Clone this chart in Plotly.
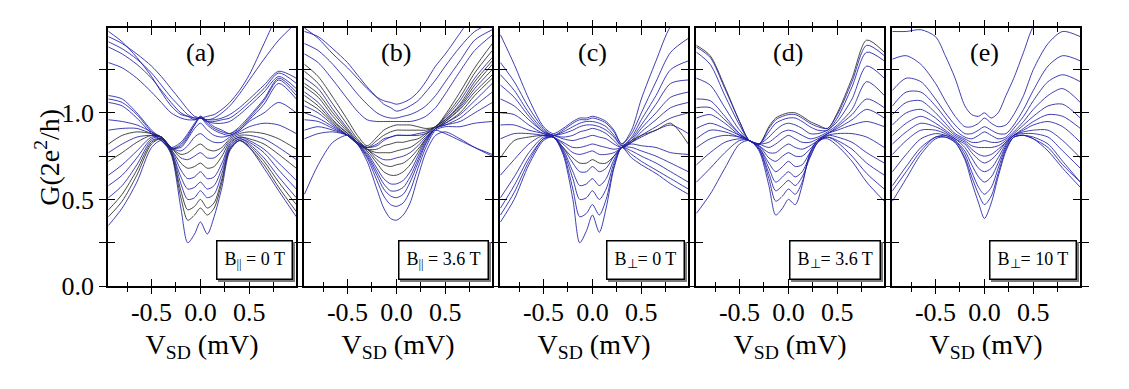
import plotly.graph_objects as go

# source-drain bias grid (mV)
VSD = [-0.94, -0.8, -0.65, -0.5, -0.4, -0.3, -0.2, -0.13, -0.06, 0.0,
       0.07, 0.14, 0.22, 0.3, 0.4, 0.5, 0.65, 0.8, 0.98]

# (a) B_par = 0 T
G_A = [
    [1.47, 1.41, 1.32, 1.21, 1.12, 1.04, 0.99, 0.98, 0.97, 0.97, 0.98, 0.99, 1.02, 1.06, 1.13, 1.22, 1.4, 1.58, 1.75],
    [1.44, 1.4, 1.34, 1.27, 1.21, 1.14, 1.07, 1.02, 0.98, 0.97, 0.96, 0.97, 1.0, 1.04, 1.11, 1.19, 1.31, 1.42, 1.52],
    [1.41, 1.37, 1.31, 1.23, 1.16, 1.09, 1.03, 0.99, 0.97, 0.97, 0.96, 0.96, 0.97, 0.99, 1.03, 1.08, 1.16, 1.24, 1.2],
    [1.38, 1.34, 1.28, 1.2, 1.13, 1.06, 1.0, 0.98, 0.96, 0.97, 0.95, 0.95, 0.96, 0.97, 1.01, 1.06, 1.14, 1.23, 1.17],
    [1.29, 1.26, 1.2, 1.12, 1.06, 1.0, 0.97, 0.96, 0.96, 0.97, 0.95, 0.94, 0.94, 0.95, 0.99, 1.04, 1.12, 1.21, 1.14],
    [1.1, 1.08, 1.0, 0.9, 0.85, 0.8, 0.83, 0.88, 0.94, 0.98, 0.95, 0.92, 0.9, 0.88, 0.92, 0.98, 1.08, 1.2, 1.12],
    [1.08, 1.06, 0.99, 0.89, 0.84, 0.79, 0.82, 0.87, 0.93, 0.98, 0.94, 0.91, 0.89, 0.88, 0.91, 0.97, 1.07, 1.19, 1.1],
    [1.06, 1.04, 0.97, 0.88, 0.84, 0.79, 0.81, 0.86, 0.93, 0.97, 0.93, 0.9, 0.88, 0.87, 0.9, 0.96, 1.05, 1.17, 1.08],
    [0.96, 0.95, 0.93, 0.89, 0.86, 0.8, 0.8, 0.85, 0.91, 0.94, 0.9, 0.87, 0.86, 0.87, 0.9, 0.95, 1.0, 1.06, 1.0],
    [0.9, 0.91, 0.91, 0.88, 0.86, 0.8, 0.78, 0.81, 0.86, 0.88, 0.85, 0.83, 0.83, 0.86, 0.89, 0.92, 0.94, 0.93, 0.88],
    [0.82, 0.87, 0.89, 0.88, 0.86, 0.8, 0.76, 0.77, 0.8, 0.82, 0.79, 0.78, 0.8, 0.85, 0.88, 0.89, 0.88, 0.85, 0.79],
    [0.77, 0.82, 0.86, 0.87, 0.86, 0.8, 0.74, 0.73, 0.75, 0.77, 0.74, 0.74, 0.78, 0.84, 0.87, 0.87, 0.85, 0.8, 0.73],
    [0.72, 0.77, 0.83, 0.87, 0.86, 0.79, 0.71, 0.68, 0.69, 0.71, 0.68, 0.69, 0.75, 0.83, 0.86, 0.85, 0.82, 0.76, 0.68],
    [0.64, 0.7, 0.78, 0.86, 0.86, 0.79, 0.67, 0.62, 0.63, 0.66, 0.62, 0.63, 0.71, 0.82, 0.86, 0.84, 0.79, 0.71, 0.61],
    [0.58, 0.64, 0.74, 0.85, 0.86, 0.78, 0.63, 0.56, 0.57, 0.6, 0.56, 0.58, 0.68, 0.81, 0.85, 0.83, 0.77, 0.67, 0.56],
    [0.51, 0.58, 0.7, 0.84, 0.85, 0.78, 0.59, 0.5, 0.51, 0.55, 0.51, 0.53, 0.65, 0.8, 0.85, 0.82, 0.74, 0.63, 0.51],
    [0.44, 0.53, 0.67, 0.83, 0.85, 0.77, 0.55, 0.44, 0.46, 0.5, 0.45, 0.48, 0.62, 0.79, 0.84, 0.81, 0.72, 0.6, 0.47],
    [0.4, 0.49, 0.64, 0.82, 0.85, 0.77, 0.51, 0.38, 0.41, 0.45, 0.41, 0.45, 0.6, 0.79, 0.84, 0.8, 0.7, 0.57, 0.43],
    [0.35, 0.45, 0.6, 0.8, 0.84, 0.76, 0.45, 0.25, 0.3, 0.37, 0.3, 0.4, 0.57, 0.78, 0.84, 0.8, 0.68, 0.55, 0.4],
]
DARK_A = [10, 12, 16, 17]

# (b) B_par = 3.6 T
G_B = [
    [1.49, 1.43, 1.34, 1.26, 1.2, 1.14, 1.09, 1.07, 1.06, 1.05, 1.06, 1.08, 1.12, 1.18, 1.27, 1.34, 1.46, 1.58, 1.7],
    [1.47, 1.44, 1.37, 1.29, 1.22, 1.15, 1.09, 1.05, 1.03, 1.01, 1.02, 1.04, 1.07, 1.12, 1.19, 1.27, 1.38, 1.47, 1.52],
    [1.4, 1.36, 1.28, 1.18, 1.11, 1.05, 1.0, 0.98, 0.97, 0.97, 0.98, 0.99, 1.01, 1.04, 1.1, 1.18, 1.3, 1.42, 1.48],
    [1.34, 1.29, 1.19, 1.08, 1.01, 0.96, 0.95, 0.95, 0.95, 0.95, 0.95, 0.95, 0.96, 0.98, 1.03, 1.11, 1.24, 1.36, 1.45],
    [1.28, 1.21, 1.09, 0.96, 0.87, 0.81, 0.86, 0.9, 0.92, 0.93, 0.93, 0.93, 0.92, 0.91, 0.92, 0.99, 1.12, 1.26, 1.4],
    [1.24, 1.17, 1.05, 0.93, 0.85, 0.8, 0.84, 0.87, 0.89, 0.9, 0.9, 0.9, 0.9, 0.9, 0.92, 0.98, 1.09, 1.23, 1.36],
    [1.2, 1.14, 1.02, 0.91, 0.84, 0.8, 0.82, 0.85, 0.86, 0.87, 0.87, 0.87, 0.88, 0.89, 0.92, 0.97, 1.07, 1.2, 1.32],
    [1.17, 1.11, 1.0, 0.9, 0.83, 0.79, 0.79, 0.81, 0.82, 0.83, 0.83, 0.84, 0.85, 0.88, 0.92, 0.96, 1.05, 1.18, 1.3],
    [1.15, 1.09, 0.98, 0.89, 0.83, 0.79, 0.77, 0.77, 0.77, 0.78, 0.79, 0.8, 0.83, 0.87, 0.92, 0.96, 1.04, 1.16, 1.28],
    [1.12, 1.06, 0.96, 0.88, 0.83, 0.79, 0.75, 0.73, 0.73, 0.74, 0.75, 0.77, 0.81, 0.86, 0.91, 0.95, 1.03, 1.14, 1.25],
    [1.1, 1.04, 0.95, 0.88, 0.82, 0.79, 0.73, 0.7, 0.69, 0.7, 0.71, 0.74, 0.79, 0.85, 0.91, 0.95, 1.02, 1.12, 1.22],
    [1.07, 1.02, 0.94, 0.87, 0.82, 0.78, 0.71, 0.66, 0.64, 0.64, 0.66, 0.7, 0.77, 0.85, 0.91, 0.94, 1.0, 1.1, 1.2],
    [1.04, 1.0, 0.93, 0.87, 0.82, 0.77, 0.68, 0.62, 0.59, 0.59, 0.61, 0.66, 0.75, 0.84, 0.91, 0.94, 0.99, 1.07, 1.17],
    [1.0, 0.97, 0.92, 0.87, 0.82, 0.76, 0.66, 0.59, 0.55, 0.55, 0.57, 0.63, 0.73, 0.83, 0.91, 0.93, 0.97, 1.04, 1.12],
    [0.96, 0.95, 0.91, 0.87, 0.82, 0.75, 0.64, 0.56, 0.52, 0.51, 0.53, 0.6, 0.71, 0.82, 0.91, 0.93, 0.95, 1.0, 1.06],
    [0.9, 0.92, 0.9, 0.87, 0.82, 0.74, 0.61, 0.52, 0.47, 0.46, 0.48, 0.55, 0.68, 0.8, 0.9, 0.92, 0.92, 0.94, 0.95],
    [0.85, 0.88, 0.89, 0.87, 0.83, 0.8, 0.81, 0.84, 0.86, 0.87, 0.87, 0.87, 0.87, 0.88, 0.9, 0.88, 0.84, 0.8, 0.76],
    [0.53, 0.7, 0.83, 0.87, 0.82, 0.72, 0.56, 0.45, 0.39, 0.38, 0.41, 0.48, 0.63, 0.77, 0.87, 0.89, 0.85, 0.8, 0.75],
]
DARK_B = [4, 5, 7, 8, 10, 11]

# (c) B_perp = 0 T
G_C = [
    [1.45, 1.28, 1.08, 0.92, 0.88, 0.91, 0.95, 0.97, 0.97, 0.98, 0.97, 0.95, 0.9, 0.82, 0.9, 1.08, 1.3, 1.5, 1.6],
    [1.29, 1.18, 1.03, 0.91, 0.87, 0.9, 0.94, 0.96, 0.96, 0.97, 0.96, 0.94, 0.89, 0.82, 0.88, 1.0, 1.18, 1.35, 1.43],
    [1.22, 1.13, 1.0, 0.9, 0.87, 0.89, 0.92, 0.94, 0.95, 0.95, 0.94, 0.92, 0.87, 0.81, 0.86, 0.96, 1.1, 1.25, 1.3],
    [1.16, 1.09, 0.98, 0.89, 0.87, 0.88, 0.9, 0.92, 0.93, 0.93, 0.92, 0.9, 0.86, 0.81, 0.85, 0.93, 1.05, 1.17, 1.19],
    [1.08, 1.04, 0.96, 0.89, 0.87, 0.86, 0.87, 0.89, 0.9, 0.91, 0.9, 0.88, 0.84, 0.8, 0.84, 0.91, 1.0, 1.09, 1.12],
    [1.0, 0.99, 0.93, 0.88, 0.87, 0.85, 0.84, 0.85, 0.86, 0.87, 0.86, 0.85, 0.82, 0.8, 0.83, 0.89, 0.96, 1.03, 1.06],
    [0.93, 0.93, 0.9, 0.88, 0.86, 0.83, 0.8, 0.8, 0.81, 0.82, 0.81, 0.8, 0.79, 0.8, 0.83, 0.87, 0.92, 0.97, 1.0],
    [0.85, 0.88, 0.88, 0.87, 0.86, 0.82, 0.77, 0.76, 0.77, 0.78, 0.76, 0.76, 0.77, 0.8, 0.83, 0.86, 0.9, 0.93, 0.88],
    [0.74, 0.84, 0.86, 0.87, 0.86, 0.8, 0.74, 0.71, 0.71, 0.73, 0.71, 0.71, 0.75, 0.8, 0.84, 0.87, 0.9, 0.94, 0.82],
    [0.64, 0.73, 0.82, 0.87, 0.86, 0.8, 0.71, 0.66, 0.66, 0.69, 0.66, 0.68, 0.75, 0.8, 0.82, 0.81, 0.8, 0.77, 0.76],
    [0.51, 0.63, 0.77, 0.86, 0.86, 0.79, 0.66, 0.58, 0.59, 0.62, 0.58, 0.62, 0.73, 0.8, 0.8, 0.78, 0.75, 0.71, 0.66],
    [0.45, 0.58, 0.74, 0.85, 0.86, 0.78, 0.62, 0.5, 0.51, 0.55, 0.5, 0.56, 0.71, 0.8, 0.78, 0.75, 0.71, 0.66, 0.6],
    [0.41, 0.54, 0.72, 0.85, 0.86, 0.77, 0.56, 0.4, 0.42, 0.47, 0.41, 0.5, 0.69, 0.8, 0.76, 0.72, 0.67, 0.62, 0.56],
    [0.37, 0.5, 0.7, 0.84, 0.86, 0.76, 0.5, 0.25, 0.32, 0.41, 0.31, 0.45, 0.68, 0.8, 0.74, 0.7, 0.65, 0.59, 0.53],
]
DARK_C = [8]

# (d) B_perp = 3.6 T
G_D = [
    [1.39, 1.33, 1.15, 0.95, 0.84, 0.82, 0.92, 0.97, 0.99, 1.0, 1.0, 0.98, 0.95, 0.93, 0.91, 1.0, 1.2, 1.42, 1.35],
    [1.38, 1.32, 1.14, 0.95, 0.84, 0.82, 0.91, 0.96, 0.98, 0.99, 0.99, 0.97, 0.94, 0.92, 0.91, 0.99, 1.18, 1.39, 1.33],
    [1.35, 1.28, 1.1, 0.93, 0.84, 0.82, 0.89, 0.94, 0.96, 0.97, 0.97, 0.95, 0.92, 0.9, 0.9, 0.97, 1.15, 1.35, 1.3],
    [1.2, 1.16, 1.03, 0.9, 0.84, 0.82, 0.86, 0.9, 0.93, 0.94, 0.93, 0.91, 0.88, 0.88, 0.9, 0.95, 1.08, 1.27, 1.2],
    [1.08, 1.07, 0.98, 0.88, 0.84, 0.82, 0.83, 0.86, 0.89, 0.9, 0.89, 0.87, 0.85, 0.86, 0.89, 0.93, 1.02, 1.18, 1.1],
    [1.03, 1.03, 0.96, 0.88, 0.84, 0.82, 0.8, 0.82, 0.85, 0.87, 0.85, 0.83, 0.83, 0.85, 0.88, 0.92, 0.99, 1.08, 1.03],
    [0.97, 0.99, 0.94, 0.87, 0.84, 0.81, 0.77, 0.77, 0.8, 0.82, 0.8, 0.79, 0.81, 0.84, 0.88, 0.91, 0.96, 1.02, 0.97],
    [0.91, 0.94, 0.91, 0.87, 0.84, 0.81, 0.74, 0.72, 0.75, 0.77, 0.75, 0.75, 0.79, 0.84, 0.88, 0.9, 0.93, 0.95, 0.92],
    [0.85, 0.9, 0.89, 0.86, 0.84, 0.8, 0.71, 0.66, 0.69, 0.72, 0.69, 0.7, 0.77, 0.83, 0.87, 0.88, 0.88, 0.86, 0.8],
    [0.8, 0.85, 0.87, 0.86, 0.84, 0.8, 0.68, 0.6, 0.63, 0.66, 0.63, 0.66, 0.75, 0.83, 0.87, 0.86, 0.83, 0.77, 0.71],
    [0.7, 0.77, 0.83, 0.85, 0.84, 0.79, 0.65, 0.55, 0.58, 0.61, 0.58, 0.63, 0.74, 0.83, 0.86, 0.84, 0.79, 0.71, 0.64],
    [0.6, 0.68, 0.77, 0.84, 0.84, 0.79, 0.62, 0.49, 0.52, 0.56, 0.53, 0.6, 0.76, 0.84, 0.86, 0.83, 0.75, 0.65, 0.56],
    [0.42, 0.53, 0.68, 0.82, 0.84, 0.78, 0.58, 0.41, 0.45, 0.5, 0.47, 0.58, 0.77, 0.84, 0.85, 0.81, 0.72, 0.6, 0.49],
]
DARK_D = [0]

# (e) B_perp = 10 T
G_E = [
    [1.47, 1.47, 1.48, 1.44, 1.33, 1.2, 1.04, 0.99, 0.98, 1.0, 0.97, 1.0, 1.1, 1.2, 1.35, 1.5, 1.6, 1.7, 1.75],
    [1.31, 1.33, 1.28, 1.17, 1.07, 0.98, 0.92, 0.92, 0.94, 0.97, 0.94, 0.92, 0.93, 0.99, 1.1, 1.25, 1.4, 1.47, 1.44],
    [1.13, 1.2, 1.18, 1.08, 1.0, 0.93, 0.88, 0.88, 0.9, 0.92, 0.9, 0.88, 0.88, 0.93, 1.02, 1.13, 1.27, 1.33, 1.3],
    [1.04, 1.12, 1.12, 1.04, 0.97, 0.9, 0.86, 0.85, 0.87, 0.89, 0.87, 0.85, 0.86, 0.91, 0.98, 1.07, 1.18, 1.22, 1.18],
    [0.99, 1.06, 1.07, 1.0, 0.94, 0.88, 0.85, 0.83, 0.83, 0.84, 0.83, 0.83, 0.85, 0.89, 0.95, 1.02, 1.1, 1.14, 1.06],
    [0.93, 1.0, 1.02, 0.97, 0.92, 0.87, 0.84, 0.81, 0.8, 0.8, 0.8, 0.81, 0.84, 0.88, 0.93, 0.98, 1.04, 1.05, 0.97],
    [0.87, 0.94, 0.98, 0.94, 0.9, 0.86, 0.83, 0.79, 0.76, 0.75, 0.76, 0.79, 0.83, 0.87, 0.91, 0.95, 0.99, 0.98, 0.91],
    [0.82, 0.89, 0.94, 0.92, 0.89, 0.85, 0.82, 0.77, 0.73, 0.71, 0.73, 0.77, 0.83, 0.87, 0.9, 0.93, 0.95, 0.92, 0.83],
    [0.76, 0.84, 0.9, 0.9, 0.88, 0.85, 0.8, 0.74, 0.68, 0.66, 0.68, 0.74, 0.82, 0.87, 0.89, 0.9, 0.9, 0.84, 0.74],
    [0.66, 0.76, 0.85, 0.88, 0.87, 0.84, 0.78, 0.7, 0.63, 0.6, 0.63, 0.71, 0.81, 0.87, 0.88, 0.88, 0.86, 0.78, 0.68],
    [0.58, 0.69, 0.8, 0.86, 0.87, 0.84, 0.76, 0.66, 0.57, 0.53, 0.57, 0.68, 0.8, 0.86, 0.87, 0.86, 0.82, 0.72, 0.6],
    [0.55, 0.66, 0.78, 0.86, 0.86, 0.83, 0.74, 0.63, 0.53, 0.47, 0.52, 0.65, 0.79, 0.86, 0.87, 0.85, 0.8, 0.7, 0.6],
    [0.49, 0.62, 0.76, 0.85, 0.86, 0.83, 0.73, 0.6, 0.48, 0.39, 0.48, 0.63, 0.78, 0.86, 0.87, 0.85, 0.78, 0.68, 0.57],
]
DARK_E = []

PANEL_TAGS = ["(a)", "(b)", "(c)", "(d)", "(e)"]
FIELD_LABELS = ["B<sub>||</sub> = 0 T", "B<sub>||</sub> = 3.6 T", "B<sub>⊥</sub>= 0 T",
                "B<sub>⊥</sub>= 3.6 T", "B<sub>⊥</sub>= 10 T"]
X_TICKS = [-0.5, 0.0, 0.5]
X_TICK_TEXT = ["-0.5", "0.0", "0.5"]
X_MINOR = [-0.75, -0.25, 0.25, 0.75]
Y_TICKS = [0.0, 0.25, 0.5, 0.75, 1.0, 1.25]
Y_TICK_TEXT = ["0.0", "", "0.5", "", "1.0", ""]

X_RANGE = [-0.945, 0.977]
Y_RANGE = [0, 1.49]

BLUE = "rgba(30,30,165,0.85)"
DARK = "rgba(40,40,40,0.85)"
SERIF = "Liberation Serif"

panels = [(G_A, DARK_A), (G_B, DARK_B), (G_C, DARK_C), (G_D, DARK_D), (G_E, DARK_E)]

fig = go.Figure()
layout = {}
pitch = 196 / 972
wid = 188 / 972

for i, (curves, dark) in enumerate(panels):
    n = i + 1
    sfx = "" if n == 1 else str(n)
    m = n + 5
    for k, g in enumerate(curves):
        fig.add_trace(go.Scatter(
            x=VSD, y=g, mode="lines", xaxis="x" + sfx, yaxis="y" + sfx,
            line=dict(color=DARK if k in dark else BLUE, width=1, shape="spline", smoothing=0.8),
            showlegend=False, hoverinfo="skip"))
    # empty trace so the overlay axes (inner half of the crossing ticks) get drawn
    fig.add_trace(go.Scatter(x=[], y=[], xaxis=f"x{m}", yaxis=f"y{m}", showlegend=False))

    dom = [i * pitch, min(1.0, i * pitch + wid)]
    layout["xaxis" + sfx] = dict(
        domain=dom, range=X_RANGE, anchor="y" + sfx,
        showline=True, linecolor="black", linewidth=1.5, mirror="ticks",
        ticks="outside", ticklen=6, tickwidth=1, tickcolor="black",
        tickvals=X_TICKS, ticktext=X_TICK_TEXT, ticklabelstandoff=-4,
        tickfont=dict(family=SERIF, size=26, color="black"),
        minor=dict(ticks="outside", ticklen=4, tickvals=X_MINOR, tickcolor="black"),
        showgrid=False, zeroline=False,
        title=dict(text="V<sub>SD</sub> (mV)", font=dict(family=SERIF, size=28, color="black"),
                   standoff=8))
    layout["yaxis" + sfx] = dict(
        domain=[0, 1], range=Y_RANGE, anchor="x" + sfx,
        showline=True, linecolor="black", linewidth=1.5, mirror="ticks",
        ticks="outside", ticklen=7, tickwidth=1, tickcolor="black",
        tickvals=Y_TICKS, ticktext=Y_TICK_TEXT, showticklabels=(n == 1),
        tickfont=dict(family=SERIF, size=26, color="black"),
        showgrid=False, zeroline=False)
    layout[f"xaxis{m}"] = dict(
        overlaying="x" + sfx, anchor=f"y{m}", range=X_RANGE,
        showline=False, mirror="ticks", ticks="inside", ticklen=7, tickcolor="black",
        tickvals=X_TICKS, showticklabels=False,
        minor=dict(ticks="inside", ticklen=4, tickvals=X_MINOR, tickcolor="black"),
        showgrid=False, zeroline=False)
    layout[f"yaxis{m}"] = dict(
        overlaying="y" + sfx, anchor=f"x{m}", range=Y_RANGE,
        showline=False, mirror="ticks", ticks="inside", ticklen=7, tickcolor="black",
        tickvals=Y_TICKS, showticklabels=False, showgrid=False, zeroline=False)

annotations = [dict(
    text="G(2e<sup>2</sup>/h)", x=-0.063, y=0.5, xref="paper", yref="paper",
    xanchor="center", yanchor="middle", textangle=-90, showarrow=False,
    font=dict(family=SERIF, size=28, color="black"))]
for i in range(5):
    sfx = "" if i == 0 else str(i + 1)
    annotations.append(dict(
        text=PANEL_TAGS[i], x=0, y=1.35, xref="x" + sfx, yref="y" + sfx,
        showarrow=False, font=dict(family=SERIF, size=26, color="black")))
    for shadow in (True, False):
        annotations.append(dict(
            text=FIELD_LABELS[i], x=0.982, y=0.025, xanchor="right", yanchor="bottom",
            xref=f"x{sfx} domain", yref=f"y{sfx} domain", showarrow=False,
            xshift=2 if shadow else 0, yshift=-2 if shadow else 0,
            bgcolor="#7a7a7a" if shadow else "white",
            bordercolor="#7a7a7a" if shadow else "black", borderwidth=1.5, borderpad=7,
            font=dict(family=SERIF, size=18, color="#7a7a7a" if shadow else "black")))

# the page body adds an 8 px offset, so the margins are trimmed by that much
fig.update_layout(
    width=1129, height=389,
    margin=dict(l=100, r=57, t=17, b=111),
    paper_bgcolor="white", plot_bgcolor="white",
    annotations=annotations, **layout)

fig.write_html("out.html")
